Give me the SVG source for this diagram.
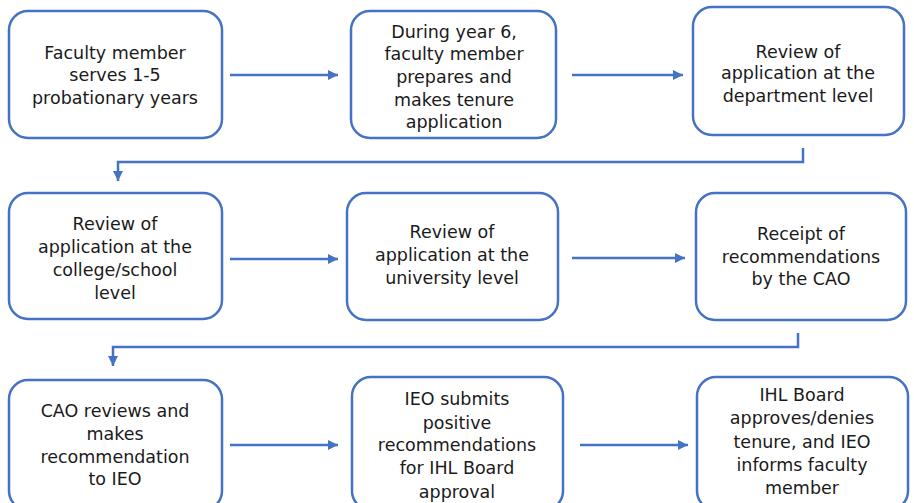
<svg xmlns="http://www.w3.org/2000/svg" width="914" height="503" viewBox="0 0 914 503">
<style>
.box{fill:#fff;stroke:#4472C4;stroke-width:2.5}
.t{font-family:"DejaVu Sans",Verdana,sans-serif;font-size:17.5px;fill:#1a1a1a;text-anchor:middle}
.c{fill:none;stroke:#4472C4;stroke-width:2.5}
</style>
<defs>
<marker id="ah" viewBox="0 0 10 10" refX="10" refY="5" markerWidth="4" markerHeight="4" markerUnits="strokeWidth" orient="auto">
<path d="M0,0 L10,5 L0,10 z" fill="#4472C4"/>
</marker>
</defs>
<rect width="914" height="503" fill="#fff"/>
<g id="connectors">
<path class="c" d="M230,75 H338" marker-end="url(#ah)"/>
<path class="c" d="M572,75 H683" marker-end="url(#ah)"/>
<path class="c" d="M803,148 V162 H118 V181" marker-end="url(#ah)"/>
<path class="c" d="M230,259 H338" marker-end="url(#ah)"/>
<path class="c" d="M572,258 H685" marker-end="url(#ah)"/>
<path class="c" d="M798,333 V347 H113 V366" marker-end="url(#ah)"/>
<path class="c" d="M230,445 H338" marker-end="url(#ah)"/>
<path class="c" d="M580,445 H688" marker-end="url(#ah)"/>
</g>
<g id="n1"><rect class="box" x="9" y="11" width="213" height="127" rx="19"/>
<text class="t"><tspan x="115" y="59">Faculty member</tspan><tspan x="115" y="81">serves 1-5</tspan><tspan x="115" y="104">probationary years</tspan></text></g>
<g id="n2"><rect class="box" x="351" y="11" width="205" height="127" rx="19"/>
<text class="t"><tspan x="454" y="38">During year 6,</tspan><tspan x="454" y="60">faculty member</tspan><tspan x="454" y="83">prepares and</tspan><tspan x="454" y="106">makes tenure</tspan><tspan x="454" y="128">application</tspan></text></g>
<g id="n3"><rect class="box" x="693" y="7" width="211" height="128" rx="19"/>
<text class="t"><tspan x="798" y="58">Review of</tspan><tspan x="798" y="79">application at the</tspan><tspan x="798" y="102">department level</tspan></text></g>
<g id="n4"><rect class="box" x="9" y="193" width="213" height="126" rx="19"/>
<text class="t"><tspan x="115" y="230">Review of</tspan><tspan x="115" y="253">application at the</tspan><tspan x="115" y="276">college/school</tspan><tspan x="115" y="299">level</tspan></text></g>
<g id="n5"><rect class="box" x="347" y="193" width="211" height="127" rx="19"/>
<text class="t"><tspan x="452" y="238">Review of</tspan><tspan x="452" y="261">application at the</tspan><tspan x="452" y="284">university level</tspan></text></g>
<g id="n6"><rect class="box" x="696" y="193" width="210" height="127" rx="19"/>
<text class="t"><tspan x="801" y="240">Receipt of</tspan><tspan x="801" y="263">recommendations</tspan><tspan x="801" y="285">by the CAO</tspan></text></g>
<g id="n7"><rect class="box" x="9" y="380" width="213" height="130" rx="19"/>
<text class="t"><tspan x="115" y="417">CAO reviews and</tspan><tspan x="115" y="440">makes</tspan><tspan x="115" y="463">recommendation</tspan><tspan x="115" y="485">to IEO</tspan></text></g>
<g id="n8"><rect class="box" x="352" y="377" width="211" height="133" rx="19"/>
<text class="t"><tspan x="457" y="405">IEO submits</tspan><tspan x="457" y="429">positive</tspan><tspan x="457" y="451">recommendations</tspan><tspan x="457" y="474">for IHL Board</tspan><tspan x="457" y="498">approval</tspan></text></g>
<g id="n9"><rect class="box" x="697" y="377" width="211" height="133" rx="19"/>
<text class="t"><tspan x="802" y="401">IHL Board</tspan><tspan x="802" y="424">approves/denies</tspan><tspan x="802" y="448">tenure, and IEO</tspan><tspan x="802" y="471">informs faculty</tspan><tspan x="802" y="494">member</tspan></text></g>
</svg>
